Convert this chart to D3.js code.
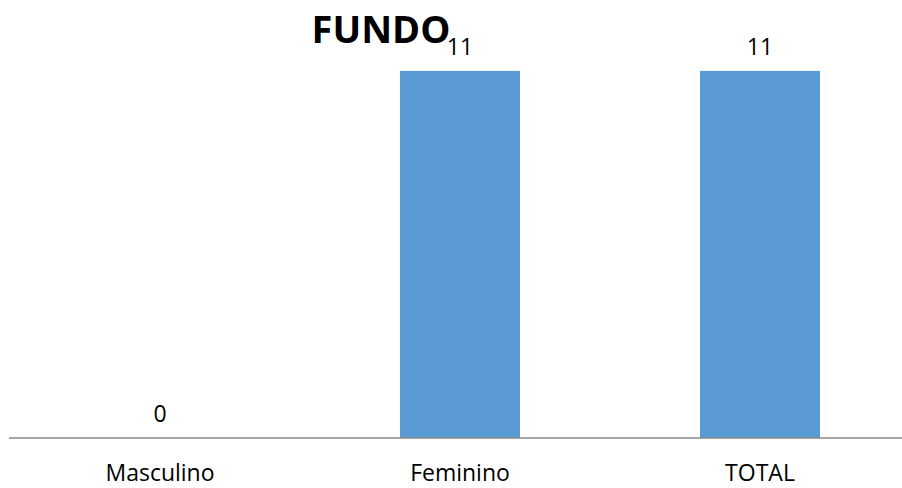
<!DOCTYPE html>
<html>
<head>
<meta charset="utf-8">
<script src="https://cdn.jsdelivr.net/npm/d3@7"></script>
<style>
  html, body { margin: 0; padding: 0; background: #fff; }
  svg { display: block; }
  text { font-family: "Open Sans", sans-serif; fill: #000; }
</style>
</head>
<body>
<svg id="chart" width="902" height="488"></svg>
<script>
const title = "FUNDO";
const categories = ["Masculino", "Feminino", "TOTAL"];
const values = [0, 11, 11];
const yMax = 12;

const svg = d3.select("#chart");
const W = 902, H = 488;
const plot = { left: 10, right: 910, top: 37.5, bottom: 438 };
const FONT = "'Open Sans', sans-serif";

const x = d3.scaleBand()
  .domain(categories)
  .range([plot.left, plot.right])
  .paddingInner(0.6)
  .paddingOuter(0.3);

const y = d3.scaleLinear()
  .domain([0, yMax])
  .range([plot.bottom, plot.top]);

const data = categories.map((c, i) => ({ c, v: values[i] }));

// bars
svg.append("g").selectAll("rect")
  .data(data)
  .join("rect")
  .attr("x", d => x(d.c))
  .attr("y", d => y(d.v))
  .attr("width", x.bandwidth())
  .attr("height", d => y(0) - y(d.v))
  .attr("fill", "#5B9BD5");

// axis
const xAxis = d3.axisBottom(x).tickSize(0).tickPadding(27);
const ax = svg.append("g")
  .attr("transform", `translate(0,${plot.bottom})`)
  .call(xAxis);
ax.select(".domain").attr("stroke", "#898989").attr("stroke-width", 1.5)
  .attr("d", `M9,0H${W}`);
ax.selectAll(".tick text")
  .attr("font-family", FONT)
  .attr("font-size", 23)
  .attr("fill", "#000")
  .attr("dy", 0)
  .attr("y", 43);

// value labels
svg.append("g").selectAll("text")
  .data(data)
  .join("text")
  .attr("x", d => x(d.c) + x.bandwidth() / 2)
  .attr("y", d => y(d.v) - 16)
  .attr("text-anchor", "middle")
  .attr("font-family", FONT)
  .attr("font-size", 23)
  .text(d => d.v);

// title
svg.append("text")
  .attr("x", 381)
  .attr("y", 43)
  .attr("text-anchor", "middle")
  .attr("font-family", FONT)
  .attr("font-size", 38)
  .attr("font-weight", "bold")
  .text(title);
</script>
</body>
</html>
